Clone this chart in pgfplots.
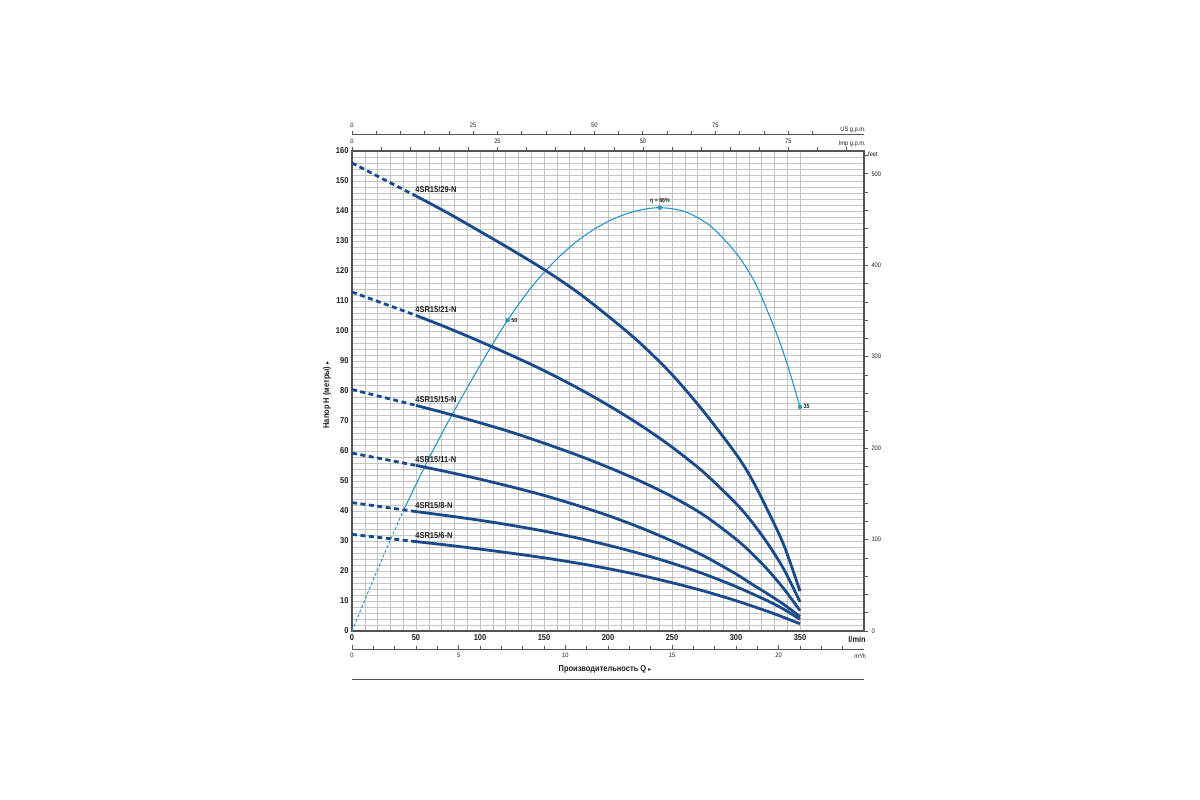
\documentclass[border=0pt]{standalone}
\usepackage{pgfplots}
\pgfplotsset{compat=1.18}
\usepackage{fontspec}
\setmainfont{Liberation Sans}
\newfontfamily\narrowfont[FakeStretch=0.88]{Liberation Sans}
\newfontfamily\symfont{DejaVu Sans}
\newcommand\tickfont{\narrowfont\bfseries\fontsize{8.5pt}{10pt}\selectfont}
\newcommand\smallfont{\narrowfont\fontsize{6.5pt}{7.5pt}\selectfont}
\newcommand\lblfont{\narrowfont\bfseries\fontsize{8.5pt}{10pt}\selectfont}
\definecolor{curve}{RGB}{24,74,140}
\definecolor{eff}{RGB}{38,150,205}
\definecolor{gridc}{RGB}{196,196,196}
\definecolor{frame}{RGB}{85,85,85}
\definecolor{txt}{RGB}{30,30,30}
\begin{document}
\begin{tikzpicture}[x=1pt,y=1pt]
\path (-352pt,-169pt) rectangle (848pt,631pt);
% main axis
\begin{axis}[
  at={(0pt,0pt)}, anchor=south west, scale only axis,
  width=512pt, height=480pt,
  xmin=0, xmax=400, ymin=0, ymax=160,
  xtick={0,50,...,350}, ytick={0,10,...,160},
  minor x tick num=4, minor y tick num=4,
  grid=both,
  grid style={gridc, line width=0.5pt},
  minor grid style={gridc, line width=0.5pt},
  major tick length=0pt, minor tick length=0pt,
  axis line style={frame, line width=1.3pt},
  ticklabel style={font=\tickfont, text=txt},
  /pgf/number format/assume math mode=true,
  clip=false,
]
% efficiency curve
\addplot[eff, line width=1pt, dash pattern=on 3pt off 2pt, smooth] coordinates {(0,0) (20,20.5) (40,40)};
\addplot[eff, line width=1.1pt, smooth] coordinates {
(40,40) (60,57.5) (80,73.5) (100,88.5) (120,102.6) (140,114.5) (160,124) (180,131.3) (200,136.5) (220,139.8) (240,141.1) (260,139.8) (280,135) (300,126) (315,116) (330,101) (340,89) (350,74.7)};
\addplot[eff, only marks, mark=*, mark size=2pt] coordinates {(121.6,103.6) (240.6,141.1) (350,74.7)};
% pump curves dashed parts
\addplot[curve, line width=2.8pt, dash pattern=on 5pt off 3.5pt] coordinates {(0,156) (50,145)};
\addplot[curve, line width=2.8pt, dash pattern=on 5pt off 3.5pt] coordinates {(0,113) (50,105.2)};
\addplot[curve, line width=2.8pt, dash pattern=on 5pt off 3.5pt] coordinates {(0,80.5) (50,75.2)};
\addplot[curve, line width=2.8pt, dash pattern=on 5pt off 3.5pt] coordinates {(0,59.3) (50,55.2)};
\addplot[curve, line width=2.8pt, dash pattern=on 5pt off 3.5pt] coordinates {(0,42.8) (50,39.8)};
\addplot[curve, line width=2.8pt, dash pattern=on 5pt off 3.5pt] coordinates {(0,32.2) (50,29.8)};
% pump curves solid parts
\addplot[curve, line width=2.8pt, smooth] coordinates {
(50,145) (75,139.3) (100,133.2) (125,127) (150,120.5) (175,113.3) (200,105) (225,96) (250,85.5) (275,73) (300,59) (312.5,50.5) (325,40) (337.5,28.5) (350,13.3)};
\addplot[curve, line width=2.8pt, smooth] coordinates {
(50,105.2) (75,101) (100,96.5) (125,91.8) (150,86.8) (175,81.3) (200,75.3) (225,68.7) (250,61.3) (275,52.8) (300,42.5) (312.5,36.3) (325,29) (337.5,20.5) (350,9.7)};
\addplot[curve, line width=2.8pt, smooth] coordinates {
(50,75.2) (75,72.4) (100,69.4) (125,66.2) (150,62.6) (175,58.8) (200,54.6) (225,50) (250,44.8) (275,38.6) (300,30.6) (312.5,25.8) (325,20.3) (337.5,14) (350,6.8)};
\addplot[curve, line width=2.8pt, smooth] coordinates {
(50,55.2) (75,53) (100,50.6) (125,48) (150,45.2) (175,42) (200,38.5) (225,34.5) (250,30) (275,25) (300,19) (312.5,15.6) (325,12.3) (337.5,8.8) (350,4.8)};
\addplot[curve, line width=2.8pt, smooth] coordinates {
(50,39.8) (75,38.4) (100,36.9) (125,35.2) (150,33.3) (175,31.1) (200,28.6) (225,25.8) (250,22.6) (275,19) (300,14.8) (325,10) (337.5,7.2) (350,3.9)};
\addplot[curve, line width=2.8pt, smooth] coordinates {
(50,29.8) (75,28.6) (100,27.3) (125,25.9) (150,24.4) (175,22.7) (200,20.8) (225,18.6) (250,16.1) (275,13.3) (300,10.1) (325,6.5) (337.5,4.5) (350,2.4)};
% curve labels
\node[anchor=south west, inner sep=0.5pt, font=\lblfont, text=txt] at (axis cs:49,146) {4SR15/29-N};
\node[anchor=south west, inner sep=0.5pt, font=\lblfont, text=txt] at (axis cs:49,106) {4SR15/21-N};
\node[anchor=south west, inner sep=0.5pt, font=\lblfont, text=txt] at (axis cs:49,76) {4SR15/15-N};
\node[anchor=south west, inner sep=0.5pt, font=\lblfont, text=txt] at (axis cs:49,56) {4SR15/11-N};
\node[anchor=south west, inner sep=0.5pt, font=\lblfont, text=txt] at (axis cs:49,40.5) {4SR15/8-N};
\node[anchor=south west, inner sep=0.5pt, font=\lblfont, text=txt] at (axis cs:49,30.5) {4SR15/6-N};
% efficiency labels
\node[anchor=south, inner sep=1pt, yshift=2.5pt, font=\narrowfont\bfseries\fontsize{6pt}{7pt}\selectfont, text=txt] at (axis cs:240.6,141.1) {η = 66\%};
\node[anchor=west, inner sep=1pt, xshift=2.5pt, font=\narrowfont\bfseries\fontsize{6pt}{7pt}\selectfont, text=txt] at (axis cs:121.6,103.6) {50};
\node[anchor=west, inner sep=1pt, xshift=2.5pt, font=\narrowfont\bfseries\fontsize{6pt}{7pt}\selectfont, text=txt] at (axis cs:350,74.7) {35};
\end{axis}
% feet axis (right)
\begin{axis}[
  at={(0pt,0pt)}, anchor=south west, scale only axis,
  width=512pt, height=480pt,
  xmin=0, xmax=400, ymin=0, ymax=524.934,
  hide x axis, axis y line*=right,
  ytick={0,100,...,500}, minor ytick={20,40,...,520},
  tick align=outside, major tick length=4pt, minor tick length=4pt,
  tick style={frame, line width=0.6pt},
  axis line style={frame, line width=1.3pt},
  yticklabel style={font=\smallfont, text=txt},
  /pgf/number format/assume math mode=true,
]
\end{axis}
% Imp gpm axis (top of box)
\begin{axis}[
  at={(0pt,0pt)}, anchor=south west, scale only axis,
  width=512pt, height=480pt,
  xmin=0, xmax=87.988, ymin=0, ymax=1,
  hide y axis, axis x line*=top,
  xtick={0,25,50,75}, minor xtick={5,10,...,85},
  tick align=outside, major tick length=3.5pt, minor tick length=3.5pt,
  tick style={frame, line width=0.6pt},
  axis line style={frame, line width=1.3pt},
  xticklabel style={font=\smallfont, text=txt},
  /pgf/number format/assume math mode=true,
]
\end{axis}
% US gpm axis
\begin{axis}[
  at={(0pt,496.4pt)}, anchor=north west, scale only axis,
  width=512pt, height=10pt,
  xmin=0, xmax=105.669, ymin=0, ymax=1,
  hide y axis, axis x line*=top,
  xtick={0,25,50,75}, minor xtick={5,10,...,95},
  tick align=outside, major tick length=3.5pt, minor tick length=3.5pt,
  tick style={frame, line width=0.6pt},
  axis line style={frame, line width=0.8pt},
  xticklabel style={font=\smallfont, text=txt},
  /pgf/number format/assume math mode=true,
]
\end{axis}
% m3/h axis
\begin{axis}[
  at={(0pt,-18pt)}, anchor=south west, scale only axis,
  width=512pt, height=10pt,
  xmin=0, xmax=24, ymin=0, ymax=1,
  hide y axis, axis x line*=bottom,
  xtick={0,5,...,20}, minor xtick={1,2,...,23},
  tick align=inside, major tick length=4pt, minor tick length=3pt,
  tick style={frame, line width=0.6pt},
  axis line style={frame, line width=0.8pt},
  xticklabel style={font=\smallfont, text=txt},
  /pgf/number format/assume math mode=true,
]
\end{axis}
% unit labels
\node[anchor=east, inner sep=0pt, font=\smallfont, text=txt] at (514pt,501.5pt) {US g.p.m.};
\node[anchor=east, inner sep=0pt, font=\smallfont, text=txt] at (514pt,487pt) {Imp g.p.m.};
\node[anchor=west, inner sep=0pt, font=\smallfont, text=txt] at (516pt,477pt) {feet};
\node[anchor=east, inner sep=0pt, font=\tickfont, text=txt] at (514pt,-9pt) {l/min};
\node[anchor=east, inner sep=0pt, font=\smallfont, text=txt] at (514pt,-25pt) {m³/h};
% axis titles
\node[rotate=90, inner sep=0pt, font=\lblfont, text=txt] at (-25pt,236pt) {Напор H (метры) {\symfont\fontsize{6pt}{7pt}\selectfont ▸}};
\node[inner sep=0pt, font=\lblfont, text=txt] at (253pt,-38pt) {Производительность Q {\symfont\fontsize{6pt}{7pt}\selectfont ▸}};
\draw[frame, line width=0.8pt] (0pt,-48pt) -- (512pt,-48pt);
\end{tikzpicture}
\end{document}
